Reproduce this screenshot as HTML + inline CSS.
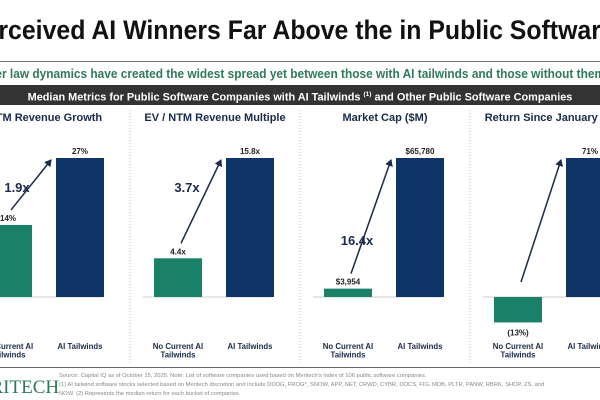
<!DOCTYPE html>
<html><head><meta charset="utf-8"><style>
body{margin:0;width:600px;height:400px;overflow:hidden;background:#fff;font-family:"Liberation Sans",sans-serif;position:relative}
.t{position:absolute;white-space:nowrap}
</style></head><body>
<div class="t" style="left:-32px;top:15px;font-size:27px;font-weight:bold;color:#111;transform:scaleX(0.92);transform-origin:0 0">Perceived AI Winners Far Above the in Public Software</div>
<div style="position:absolute;left:0;top:61px;width:600px;height:1px;background:#777"></div>
<div class="t" style="left:-29px;top:66px;font-size:13.2px;font-weight:bold;color:#2e7a5a;transform:scaleX(0.9);transform-origin:0 0">Power law dynamics have created the widest spread yet between those with AI tailwinds and those without them</div>
<div style="position:absolute;left:0;top:85px;width:600px;height:20px;background:#333;color:#fff;font-size:10.9px;font-weight:bold;text-align:center;line-height:20px">Median Metrics for Public Software Companies with AI Tailwinds <sup style="font-size:6.5px">(1)</sup> and Other Public Software Companies</div>
<svg width="600" height="400" style="position:absolute;left:0;top:0" id="chart"></svg>
<div style="position:absolute;left:0;top:367px;width:600px;height:1px;background:#666"></div>
<div class="t" style="left:-38px;top:377px;font-size:19px;font-family:'Liberation Serif',serif;color:#2e7a5a">MERITECH</div>
<div class="t" style="left:59px;top:372px;font-size:5.8px;line-height:9px;color:#888">Source: Capital IQ as of October 15, 2025. Note: List of software companies used based on Meritech's index of 106 public software companies.<br>(1) AI tailwind software stocks selected based on Meritech discretion and include DDOG, FROG*, SNOW, APP, NET, CRWD, CYBR, DOCS, FIG, MDB, PLTR, PANW, RBRK, SHOP, ZS, and<br>NOW. (2) Represents the median return for each bucket of companies.</div>
<script>
const titles=["NTM Revenue Growth","EV / NTM Revenue Multiple","Market Cap ($M)","Return Since January 2025"];
const noAI=[14,4.4,3954,-13];
const withAI=[27,15.8,65780,71];
const noAILabels=["14%","4.4x","$3,954","(13%)"];
const withAILabels=["27%","15.8x","$65,780","71%"];
const multiples=["1.9x","3.7x","16.4x",""];
const categories=["No Current AI|Tailwinds","AI Tailwinds"];
const NS="http://www.w3.org/2000/svg";
const svg=document.getElementById('chart');
function mk(tag,attrs,parent){const e=document.createElementNS(NS,tag);for(const k in attrs)e.setAttribute(k,attrs[k]);(parent||svg).appendChild(e);return e;}
const defs=mk('defs',{});
const mkr=mk('marker',{id:'ah',markerWidth:8,markerHeight:8,refX:6,refY:4,orient:'auto',markerUnits:'userSpaceOnUse'},defs);
mk('path',{d:'M0,0 L7,4 L0,8 Z',fill:'#1a2a4a'},mkr);
const panelX=[-49,121,291,461];const panelW=170;const baseY=297;const maxH=139;
const multY=[192,192,245,0];
[130,300,470].forEach(x=>{const l=mk('line',{x1:x,x2:x,y1:110,y2:365,stroke:'#bbb','stroke-dasharray':'1,2'});

});
for(let i=0;i<4;i++){
 const x0=panelX[i],cx=x0+panelW/2+9;
 const g=mk('g',{});
 
 
 const tt=mk('text',{x:cx,y:121,'text-anchor':'middle','font-size':11,'font-weight':'bold',fill:'#1a2a4a'},g);tt.textContent=titles[i];
 
 
 const scale=maxH/withAI[i];
 const y=v=>baseY-v*scale;
 mk('line',{x1:x0+22,x2:x0+150,y1:baseY,y2:baseY,stroke:'#ccc'},g);
 const gx=x0+33,nx=x0+105,bw=48;
 const v1=noAI[i],v2=withAI[i];
 const b1=mk('rect',{x:gx,y:Math.min(y(v1),baseY),width:bw,height:Math.abs(baseY-y(v1)),fill:'#1a8068'},g);
 
 
 const b2=mk('rect',{x:nx,y:y(v2),width:bw,height:baseY-y(v2),fill:'#0f3566'},g);
 
 
 const l1=mk('text',{x:gx+bw/2,y:v1>=0?y(v1)-4:y(v1)+13,'text-anchor':'middle','font-size':8,'font-weight':'bold',fill:'#222'},g);l1.textContent=noAILabels[i];
 
 
 const l2=mk('text',{x:nx+bw/2,y:y(v2)-4,'text-anchor':'middle','font-size':8,'font-weight':'bold',fill:'#222'},g);l2.textContent=withAILabels[i];
 
 
 const ay1=(v1>=0?y(v1):baseY)-15;
 const ar=mk('line',{x1:gx+27,y1:ay1,x2:nx-5,y2:y(v2)+2,stroke:'#1a2a4a','stroke-width':1.5,'marker-end':'url(#ah)'},g);
 
 
 if(multiples[i]){const m=mk('text',{x:gx+33,y:multY[i],'text-anchor':'middle','font-size':13,'font-weight':'bold',fill:'#1a2a4a'},g);m.textContent=multiples[i];
 
 }
 const c1=categories[0].split('|');
 c1.forEach((s,k)=>{const t=mk('text',{x:gx+bw/2,y:349+k*8.5,'text-anchor':'middle','font-size':7.8,'font-weight':'bold',fill:'#1a2a4a'},g);t.textContent=s;
 
 });
 const t2=mk('text',{x:nx+bw/2,y:349,'text-anchor':'middle','font-size':7.8,'font-weight':'bold',fill:'#1a2a4a'},g);t2.textContent=categories[1];
 
 
}
</script>
</body></html>
